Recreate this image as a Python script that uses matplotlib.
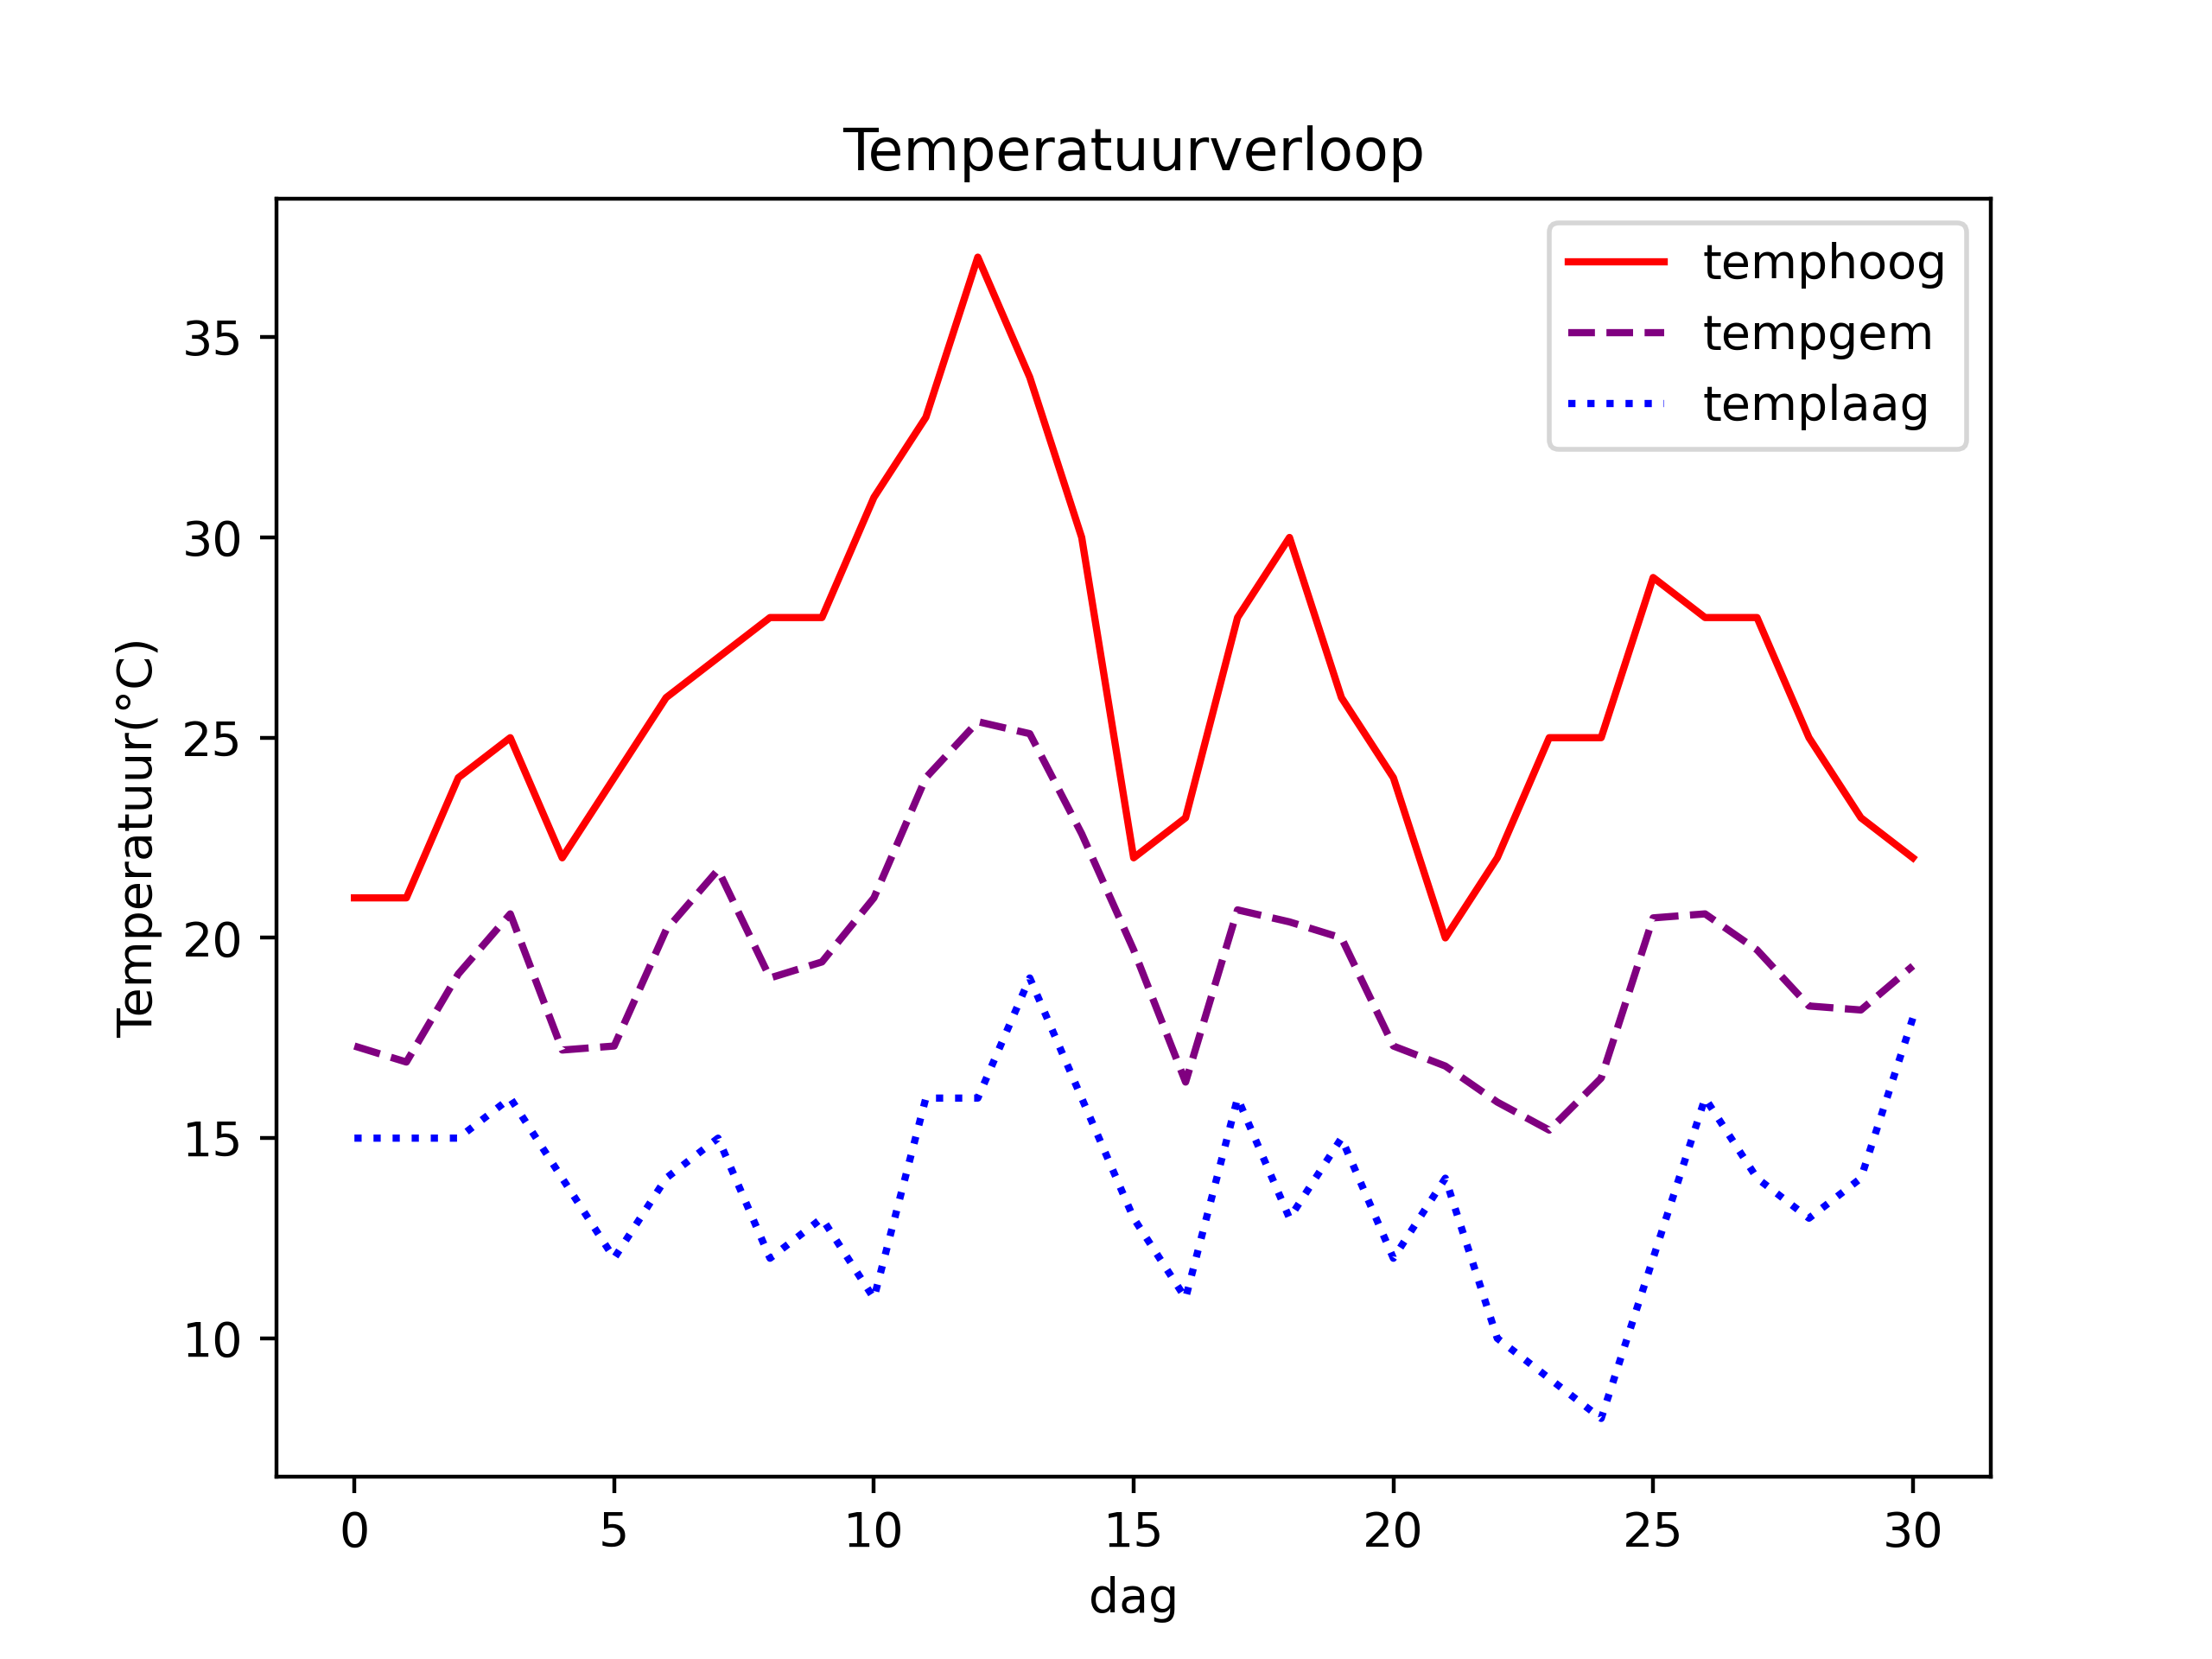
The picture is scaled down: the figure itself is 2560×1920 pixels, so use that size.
import numpy as np
import matplotlib
matplotlib.use('Agg')
import matplotlib.pyplot as plt

# Dagen en temperaturen
dag = list(range(31))
temphoog = [21, 21, 24, 25, 22, 24, 26, 27, 28, 28, 31, 33, 37, 34, 30, 22,
            23, 28, 30, 26, 24, 20, 22, 25, 25, 29, 28, 28, 25, 23, 22]
tempgem = [17.3, 16.9, 19.1, 20.6, 17.2, 17.3, 20.2, 21.7, 19.0, 19.4, 21.0,
           24.0, 25.4, 25.1, 22.6, 19.7, 16.4, 20.7, 20.4, 20.0, 17.3, 16.8,
           15.9, 15.2, 16.5, 20.5, 20.6, 19.7, 18.3, 18.2, 19.3]
templaag = [15, 15, 15, 16, 14, 12, 14, 15, 12, 13, 11, 16, 16, 19, 16, 13,
            11, 16, 13, 15, 12, 14, 10, 9, 8, 12, 16, 14, 13, 14, 18]

fig, ax = plt.subplots(figsize=(6.4, 4.8), dpi=400)

ax.plot(dag, temphoog, color='red', linestyle='-', label='temphoog')
ax.plot(dag, tempgem, color='purple', linestyle='--', label='tempgem')
ax.plot(dag, templaag, color='blue', linestyle=':', label='templaag')

ax.set_title('Temperatuurverloop')
ax.set_xlabel('dag')
ax.set_ylabel('Temperatuur(°C)')
ax.legend(loc='upper right')

plt.savefig('out.png', dpi=400)
